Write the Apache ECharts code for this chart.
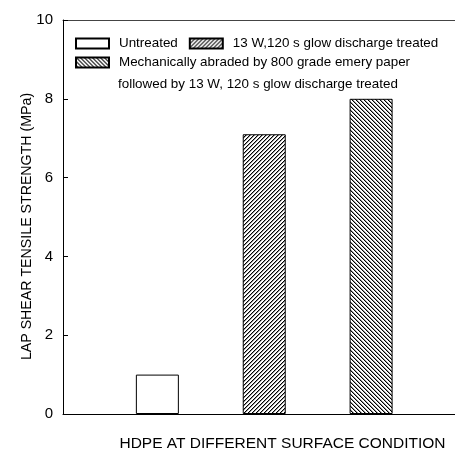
<!DOCTYPE html>
<html>
<head>
<meta charset="utf-8">
<script src="https://cdn.jsdelivr.net/npm/echarts@6/dist/echarts.min.js"></script>
<style>
  html, body { margin: 0; padding: 0; background: #fff; }
  #chart { width: 455px; height: 449px; }
</style>
</head>
<body>
<div id="chart"></div>
<script>
// Surface conditions (legend entries) and their lap shear strengths in MPa
const conditions = [
  'Untreated',
  '13 W,120 s glow discharge treated',
  'Mechanically abraded by 800 grade emery paper'
];
const conditionNote = 'followed by 13 W, 120 s glow discharge treated';
const strength = [1.0, 7.1, 8.0];
const barSlots = [1, 2, 3];

const FONT = '"Liberation Sans", Arial, Helvetica, sans-serif';
const LEGEND_SIZE = 13.4;

// Small repeating tile of diagonal lines; dir > 0 gives "/", dir < 0 gives "\"
function hatch(dir) {
  const size = 4;
  const c = document.createElement('canvas');
  c.width = size; c.height = size;
  const ctx = c.getContext('2d');
  const img = ctx.createImageData(size, size);
  for (let y = 0; y < size; y++) {
    for (let x = 0; x < size; x++) {
      const k = dir > 0 ? (x + y) % size : (x - y + 2 * size) % size;
      const v = k === 0 ? 0 : (k === 1 ? 150 : 255);
      const p = (y * size + x) * 4;
      img.data[p] = v; img.data[p + 1] = v; img.data[p + 2] = v; img.data[p + 3] = 255;
    }
  }
  ctx.putImageData(img, 0, 0);
  return { image: c, repeat: 'repeat' };
}

const fills = ['#ffffff', hatch(1), hatch(-1)];

const chart = echarts.init(document.getElementById('chart'), null, { renderer: 'canvas' });

const legendBase = {
  orient: 'horizontal',
  left: 75,
  padding: 0,
  icon: 'rect',
  itemWidth: 33,
  itemHeight: 10,
  itemGap: 11,
  selectedMode: false,
  textStyle: { fontSize: LEGEND_SIZE, color: '#000', fontFamily: FONT, padding: [0, 0, 0, 5] }
};

chart.setOption({
  animation: false,
  backgroundColor: '#fff',
  grid: { left: 63, right: 0, top: 20, bottom: 35, containLabel: false, outerBoundsMode: 'none' },
  legend: [
    Object.assign({}, legendBase, { top: 37, data: [conditions[0], conditions[1]] }),
    Object.assign({}, legendBase, { top: 56, data: [conditions[2]] })
  ],
  graphic: [{
    type: 'text',
    left: 118,
    top: 78,
    style: { text: conditionNote, fontSize: LEGEND_SIZE, fontFamily: FONT, fill: '#000' }
  }],
  xAxis: [{
    type: 'value',
    min: 0.117,
    max: 3.785,
    axisLine: { show: true, onZero: false, lineStyle: { color: '#000', width: 1 } },
    axisTick: { show: false },
    axisLabel: { show: false },
    splitLine: { show: false },
    name: 'HDPE AT DIFFERENT SURFACE CONDITION',
    nameLocation: 'middle',
    nameGap: 22,
    nameTextStyle: { fontSize: 15.5, color: '#000', fontFamily: FONT, padding: [0, 0, 0, 47] }
  }, {
    type: 'value',
    position: 'top',
    min: 0.117,
    max: 3.785,
    axisLine: { show: true, onZero: false, lineStyle: { color: '#444', width: 1 } },
    axisTick: { show: false },
    axisLabel: { show: false },
    splitLine: { show: false }
  }],
  yAxis: {
    type: 'value',
    min: 0,
    max: 10,
    interval: 2,
    axisLine: { show: true, lineStyle: { color: '#000', width: 1 } },
    axisTick: { show: true, inside: true, length: 5, lineStyle: { color: '#000' } },
    axisLabel: { fontSize: 15, color: '#000', fontFamily: FONT, margin: 10 },
    splitLine: { show: false },
    name: 'LAP SHEAR TENSILE STRENGTH (MPa)',
    nameLocation: 'middle',
    nameRotate: 90,
    nameGap: 29,
    nameMoveOverlap: false,
    nameTextStyle: { fontSize: 14.2, color: '#000', fontFamily: FONT, padding: [0, 19, 0, 0] }
  },
  series: conditions.map((name, i) => ({
    name: name,
    type: 'bar',
    stack: 'all',
    barWidth: 43,
    data: [[barSlots[i], strength[i]]],
    itemStyle: { color: fills[i], borderColor: '#000', borderWidth: 1 }
  }))
});
</script>
</body>
</html>
